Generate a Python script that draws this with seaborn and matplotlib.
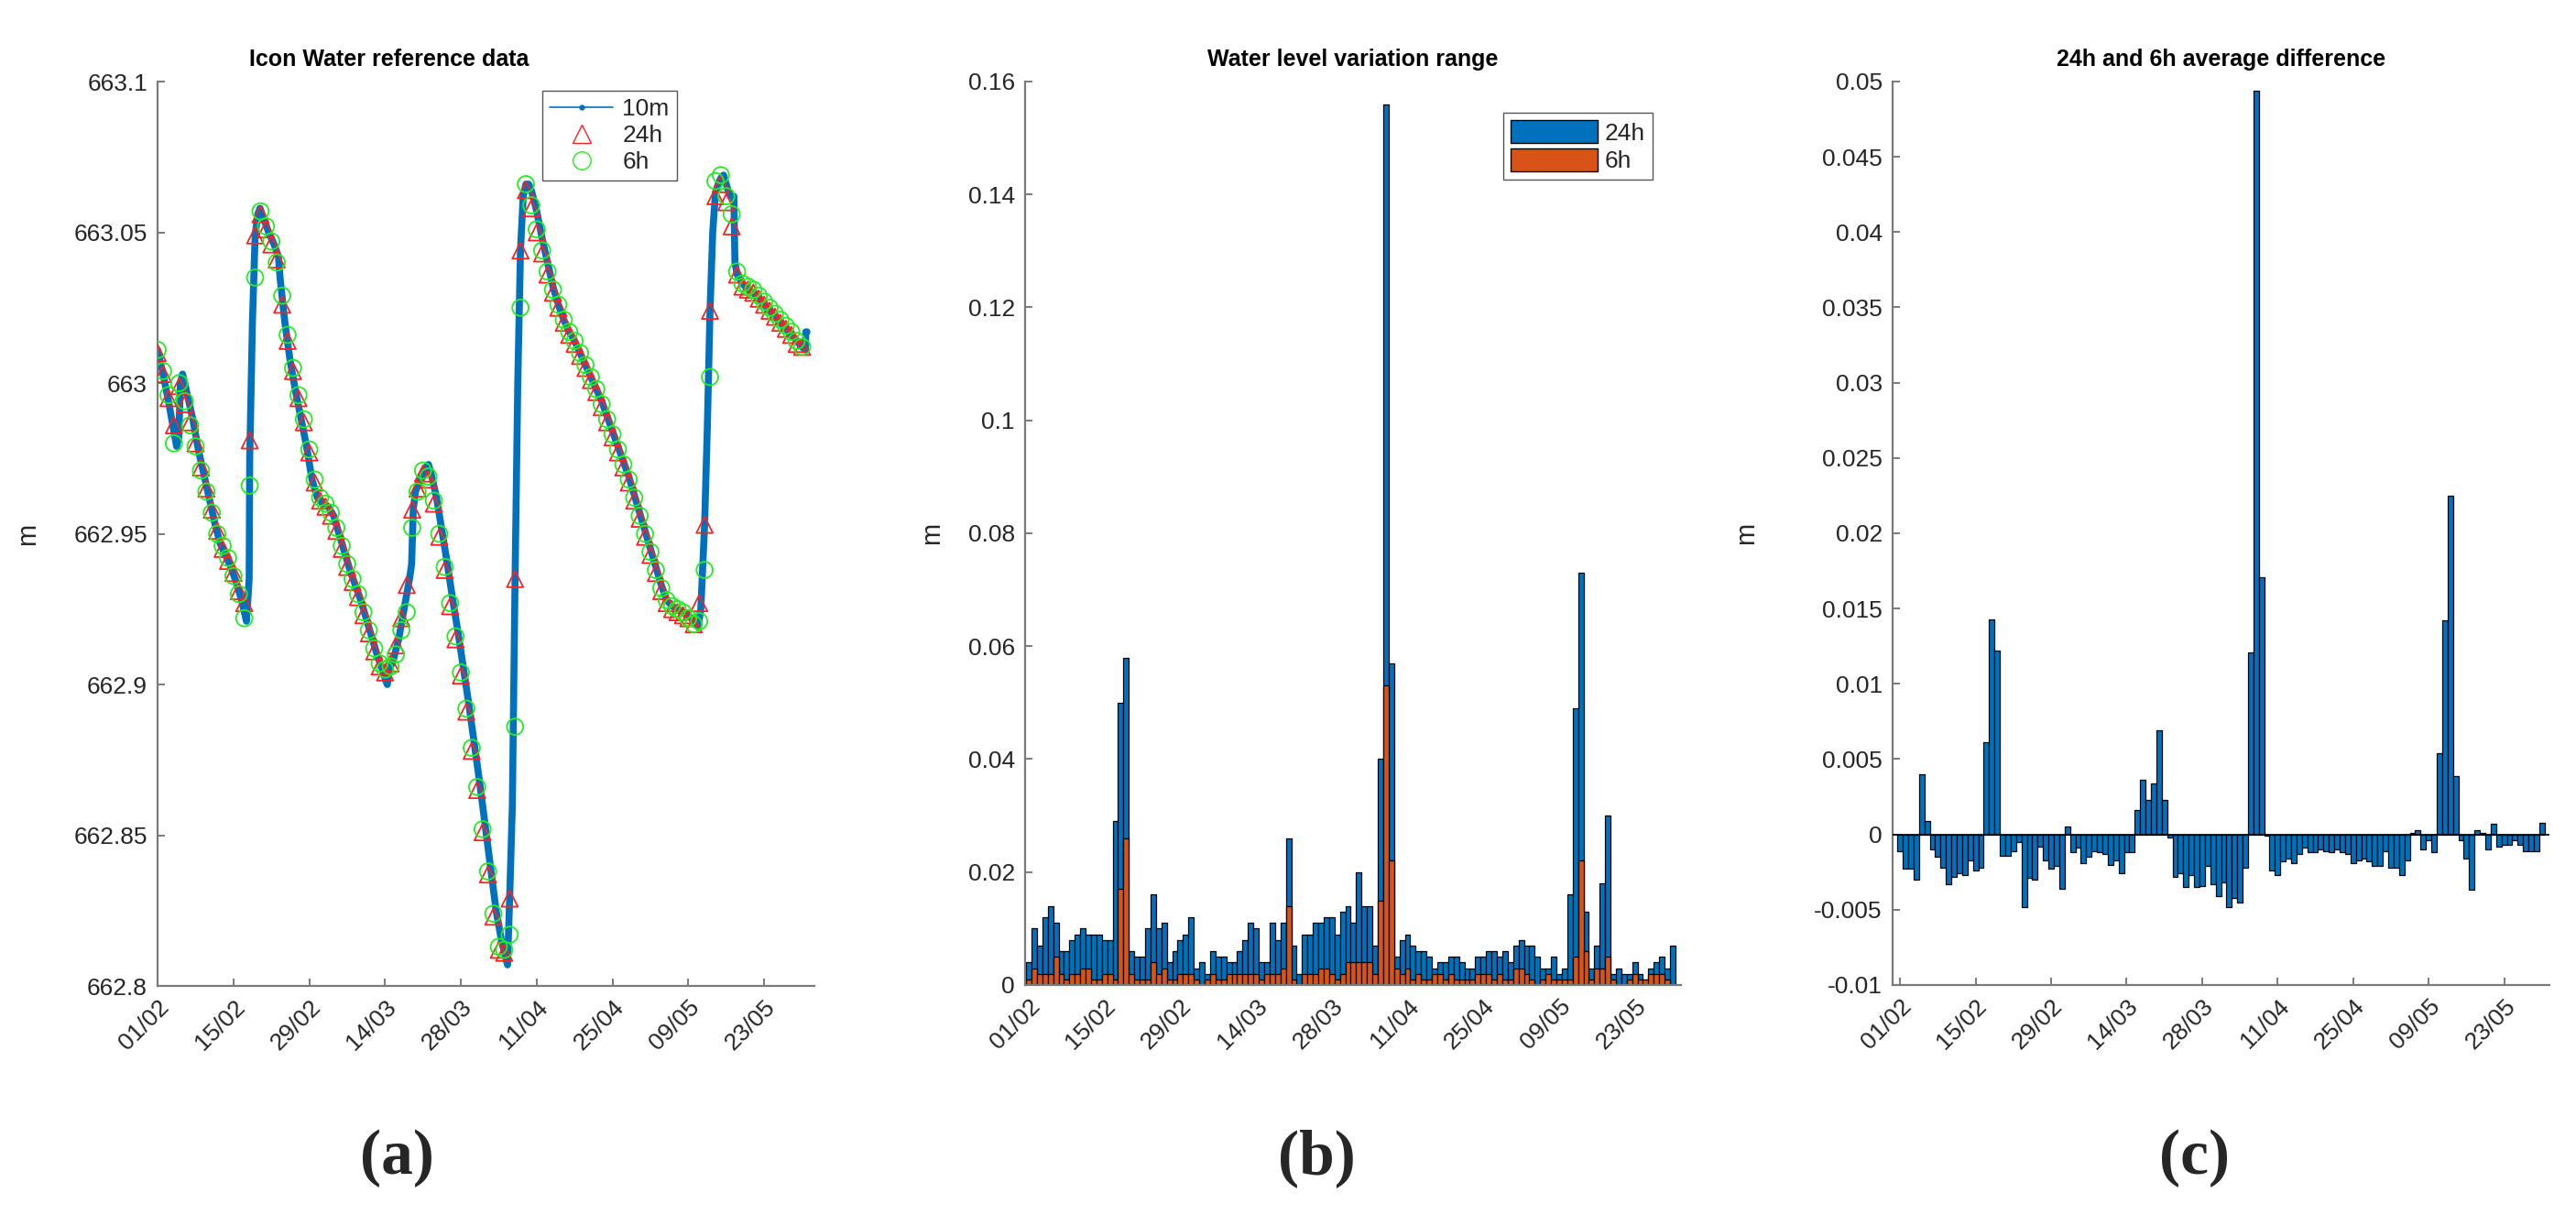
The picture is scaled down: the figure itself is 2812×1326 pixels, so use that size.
import numpy as np
import matplotlib
matplotlib.use("Agg")
import matplotlib.pyplot as plt
import seaborn as sns
from matplotlib.lines import Line2D
from matplotlib.patches import Patch
from matplotlib.ticker import FuncFormatter

# ---------------- data ----------------
DATE_TICKS = [0, 14, 28, 42, 56, 70, 84, 98, 112]
DATE_LABELS = ["01/02", "15/02", "29/02", "14/03", "28/03", "11/04", "25/04", "09/05", "23/05"]

# (a) 10-minute record, vertices (day, m)
level_10m_day = [
    0.0, 1.0, 2.0, 3.0, 3.5, 3.9, 4.2, 4.6, 5.5, 6.5, 7.5, 8.5, 9.5, 10.5, 11.5, 12.5,
    13.5, 14.5, 15.5, 16.4, 16.9, 17.0, 17.5, 18.0, 18.5, 18.9, 19.5, 20.5, 21.5, 22.3,
    22.6, 23.5, 24.5, 25.5, 26.5, 27.5, 28.5, 29.5, 30.5, 31.5, 32.5, 33.5, 34.5, 35.5,
    36.5, 37.5, 38.5, 39.5, 40.5, 41.5, 42.0, 42.4, 42.8, 43.5, 44.5, 45.5, 46.5, 46.9,
    47.2, 47.6, 48.5, 49.5, 50.0, 50.5, 51.5, 52.5, 53.5, 54.5, 55.5, 56.5, 57.5, 58.5,
    59.5, 60.5, 61.5, 62.5, 63.5, 64.6, 65.0, 65.5, 66.0, 66.5, 67.0, 67.5, 68.0, 68.5,
    69.0, 70.0, 71.0, 72.0, 73.0, 74.0, 75.0, 76.0, 77.0, 78.0, 79.0, 80.0, 81.0, 82.0,
    83.0, 84.0, 85.0, 86.0, 87.0, 88.0, 89.0, 90.0, 91.0, 92.0, 93.0, 94.0, 95.0, 96.0,
    97.0, 98.0, 99.0, 99.8, 100.3, 101.0, 101.5, 102.0, 102.5, 103.0, 103.5, 104.0,
    104.5, 105.0, 105.5, 106.0, 106.4, 106.6, 107.0, 108.0, 109.0, 110.0, 111.0, 112.0,
    113.0, 114.0, 115.0, 116.0, 117.0, 118.0, 119.0, 119.6, 119.7, 119.9,
]
level_10m = [
    663.011, 663.003, 662.994, 662.984, 662.979, 662.982, 663.000, 663.003, 662.996,
    662.988, 662.978, 662.970, 662.962, 662.954, 662.947, 662.943, 662.939, 662.934,
    662.928, 662.921, 662.935, 662.975, 663.020, 663.049, 663.056, 663.058, 663.055,
    663.050, 663.046, 663.042, 663.035, 663.020, 663.007, 662.997, 662.988, 662.979,
    662.968, 662.962, 662.960, 662.959, 662.956, 662.950, 662.944, 662.938, 662.933,
    662.928, 662.922, 662.916, 662.910, 662.905, 662.902, 662.900, 662.905, 662.908,
    662.915, 662.925, 662.935, 662.940, 662.958, 662.964, 662.968, 662.972, 662.973,
    662.970, 662.962, 662.951, 662.940, 662.928, 662.917, 662.905, 662.893, 662.880,
    662.867, 662.853, 662.839, 662.825, 662.815, 662.807, 662.829, 662.860, 662.935,
    663.000, 663.044, 663.062, 663.066, 663.066, 663.064, 663.057, 663.048, 663.040,
    663.032, 663.026, 663.021, 663.017, 663.014, 663.010, 663.006, 663.002, 662.998,
    662.994, 662.989, 662.984, 662.979, 662.974, 662.969, 662.963, 662.957, 662.951,
    662.945, 662.939, 662.933, 662.928, 662.926, 662.925, 662.924, 662.923, 662.921,
    662.919, 662.925, 662.953, 662.985, 663.024, 663.050, 663.063, 663.066, 663.068,
    663.069, 663.066, 663.063, 663.062, 663.062, 663.040, 663.036, 663.033, 663.031,
    663.030, 663.028, 663.026, 663.024, 663.022, 663.020, 663.018, 663.016, 663.014,
    663.012, 663.011, 663.017, 663.017,
]

# (a) daily 24h averages (triangles), days 0..119
avg_24h = [
    663.010, 663.003, 662.995, 662.986, 662.999, 662.993, 662.987, 662.980, 662.972, 662.965,
    662.958, 662.951, 662.945, 662.941, 662.937, 662.931, 662.927, 662.981, 663.049, 663.056,
    663.051, 663.046, 663.041, 663.026, 663.014, 663.004, 662.995, 662.987, 662.977, 662.967,
    662.961, 662.959, 662.956, 662.951, 662.945, 662.939, 662.934, 662.929, 662.923, 662.917,
    662.911, 662.906, 662.904, 662.907, 662.913, 662.922, 662.933, 662.958, 662.965, 662.970,
    662.968, 662.960, 662.949, 662.938, 662.926, 662.915, 662.903, 662.891, 662.878, 662.865,
    662.851, 662.837, 662.823, 662.812, 662.811, 662.829, 662.935, 663.044, 663.064, 663.058,
    663.050, 663.043, 663.036, 663.030, 663.025, 663.020, 663.016, 663.013, 663.009, 663.005,
    663.001, 662.997, 662.992, 662.987, 662.982, 662.977, 662.972, 662.967, 662.961, 662.955,
    662.949, 662.943, 662.937, 662.931, 662.927, 662.925, 662.924, 662.923, 662.922, 662.920,
    662.927, 662.953, 663.024, 663.062, 663.066, 663.060, 663.052, 663.036, 663.032, 663.031,
    663.030, 663.028, 663.026, 663.024, 663.022, 663.020, 663.018, 663.016, 663.013, 663.012,
]
# (a) daily 6h averages (circles), days 0..119
avg_6h = [
    663.011, 663.004, 662.996, 662.980, 663.000, 662.994, 662.986, 662.979, 662.971, 662.964,
    662.957, 662.950, 662.946, 662.942, 662.936, 662.930, 662.922, 662.966, 663.035, 663.057,
    663.052, 663.047, 663.040, 663.029, 663.016, 663.005, 662.996, 662.988, 662.978, 662.968,
    662.962, 662.960, 662.957, 662.952, 662.946, 662.940, 662.935, 662.930, 662.924, 662.918,
    662.912, 662.907, 662.905, 662.906, 662.910, 662.918, 662.924, 662.952, 662.964, 662.971,
    662.969, 662.961, 662.950, 662.939, 662.927, 662.916, 662.904, 662.892, 662.879, 662.866,
    662.852, 662.838, 662.824, 662.813, 662.812, 662.817, 662.886, 663.025, 663.066, 663.059,
    663.051, 663.044, 663.037, 663.031, 663.026, 663.021, 663.017, 663.014, 663.010, 663.006,
    663.002, 662.998, 662.993, 662.988, 662.983, 662.978, 662.973, 662.968, 662.962, 662.956,
    662.950, 662.944, 662.938, 662.932, 662.928, 662.926, 662.925, 662.924, 662.922, 662.920,
    662.921, 662.938, 663.002, 663.067, 663.069, 663.062, 663.056, 663.037, 663.033, 663.032,
    663.031, 663.029, 663.027, 663.025, 663.023, 663.021, 663.019, 663.017, 663.014, 663.012,
]

# (b) daily variation range, days 0..119
range_24h = [
    0.004, 0.010, 0.007, 0.012, 0.014, 0.011, 0.006, 0.006, 0.008, 0.009,
    0.010, 0.009, 0.009, 0.009, 0.008, 0.008, 0.029, 0.050, 0.058, 0.006,
    0.005, 0.005, 0.010, 0.016, 0.010, 0.011, 0.004, 0.006, 0.008, 0.009,
    0.012, 0.003, 0.004, 0.002, 0.006, 0.005, 0.005, 0.004, 0.004, 0.006,
    0.008, 0.011, 0.010, 0.004, 0.004, 0.011, 0.008, 0.011, 0.026, 0.007,
    0.002, 0.009, 0.009, 0.011, 0.011, 0.012, 0.012, 0.009, 0.013, 0.014,
    0.011, 0.020, 0.014, 0.014, 0.007, 0.040, 0.156, 0.057, 0.005, 0.008,
    0.009, 0.007, 0.006, 0.006, 0.005, 0.003, 0.004, 0.004, 0.005, 0.005,
    0.004, 0.003, 0.003, 0.005, 0.005, 0.006, 0.006, 0.005, 0.006, 0.004,
    0.007, 0.008, 0.007, 0.007, 0.005, 0.003, 0.003, 0.005, 0.002, 0.003,
    0.016, 0.049, 0.073, 0.013, 0.003, 0.007, 0.018, 0.030, 0.002, 0.003,
    0.002, 0.002, 0.004, 0.002, 0.001, 0.003, 0.004, 0.005, 0.003, 0.007,
]
range_6h = [
    0.001, 0.003, 0.002, 0.002, 0.002, 0.005, 0.002, 0.001, 0.002, 0.002,
    0.003, 0.003, 0.001, 0.001, 0.002, 0.002, 0.001, 0.017, 0.026, 0.002,
    0.001, 0.001, 0.001, 0.004, 0.002, 0.003, 0.001, 0.001, 0.002, 0.002,
    0.002, 0.001, 0.000, 0.001, 0.002, 0.001, 0.001, 0.002, 0.002, 0.002,
    0.002, 0.002, 0.002, 0.001, 0.002, 0.002, 0.002, 0.003, 0.014, 0.001,
    0.000, 0.002, 0.002, 0.002, 0.003, 0.003, 0.002, 0.001, 0.002, 0.004,
    0.004, 0.004, 0.004, 0.004, 0.002, 0.015, 0.053, 0.022, 0.003, 0.002,
    0.003, 0.001, 0.002, 0.001, 0.001, 0.002, 0.002, 0.001, 0.002, 0.001,
    0.001, 0.001, 0.001, 0.002, 0.002, 0.002, 0.001, 0.002, 0.001, 0.001,
    0.003, 0.003, 0.002, 0.001, 0.000, 0.001, 0.002, 0.001, 0.001, 0.001,
    0.001, 0.005, 0.022, 0.006, 0.001, 0.003, 0.003, 0.005, 0.001, 0.000,
    0.000, 0.001, 0.002, 0.001, 0.001, 0.002, 0.002, 0.002, 0.001, 0.000,
]

# (c) 24h minus 6h average, days 0..119
avg_diff = [
    -0.0011, -0.0023, -0.0023, -0.0030, 0.0040, 0.0009, -0.0010, -0.0015, -0.0022, -0.0033,
    -0.0028, -0.0026, -0.0027, -0.0017, -0.0024, -0.0022, 0.0061, 0.0143, 0.0122, -0.0014,
    -0.0014, -0.0011, -0.0005, -0.0048, -0.0029, -0.0030, -0.0008, -0.0017, -0.0023, -0.0021,
    -0.0036, 0.0005, -0.0012, -0.0009, -0.0019, -0.0015, -0.0011, -0.0012, -0.0013, -0.0020,
    -0.0017, -0.0026, -0.0012, -0.0012, 0.0016, 0.0036, 0.0023, 0.0034, 0.0069, 0.0023,
    -0.0002, -0.0028, -0.0026, -0.0035, -0.0027, -0.0035, -0.0034, -0.0021, -0.0033, -0.0041,
    -0.0032, -0.0048, -0.0042, -0.0045, -0.0022, 0.0121, 0.0494, 0.0171, -0.0001, -0.0024,
    -0.0027, -0.0018, -0.0016, -0.0019, -0.0013, -0.0009, -0.0012, -0.0012, -0.0010, -0.0011,
    -0.0012, -0.0010, -0.0012, -0.0013, -0.0019, -0.0017, -0.0016, -0.0018, -0.0021, -0.0021,
    -0.0011, -0.0022, -0.0022, -0.0027, -0.0017, 0.0001, 0.0003, -0.0010, -0.0004, -0.0012,
    0.0054, 0.0142, 0.0225, 0.0039, -0.0004, -0.0016, -0.0037, 0.0003, 0.0001, -0.0010,
    0.0007, -0.0008, -0.0007, -0.0007, -0.0004, -0.0007, -0.0011, -0.0011, -0.0011, 0.0008,
]
days = np.arange(len(avg_24h))

BLUE = "#0072BD"
ORANGE = "#D95319"
AXIS_GRAY = "#7a7a7a"
TEXT_GRAY = "#262626"

sns.set_theme(style="ticks")
plt.rcParams["font.family"] = ["Liberation Sans", "DejaVu Sans"]
plt.rcParams.update({
    "xtick.direction": "in", "ytick.direction": "in",
    "axes.edgecolor": AXIS_GRAY, "xtick.color": AXIS_GRAY, "ytick.color": AXIS_GRAY,
    "xtick.labelcolor": TEXT_GRAY, "ytick.labelcolor": TEXT_GRAY,
    "axes.linewidth": 1.6, "xtick.major.width": 1.4, "ytick.major.width": 1.4,
    "xtick.major.size": 6, "ytick.major.size": 6,
})

TICK_FS = 19
fmt = FuncFormatter(lambda v, p: f"{round(v, 5):g}")


def style_axes(ax, title, ylabel_x, title_x=0.5):
    sns.despine(ax=ax)
    ax.set_title(title, fontsize=18, fontweight="bold", color="black", pad=12, x=title_x)
    ax.set_ylabel("m", fontsize=21, color=TEXT_GRAY)
    ax.yaxis.set_label_coords(ylabel_x, 0.5)
    ax.set_xticks(DATE_TICKS)
    ax.set_xticklabels(DATE_LABELS, rotation=45, ha="right", rotation_mode="anchor")
    ax.tick_params(axis="both", labelsize=TICK_FS, pad=8)
    ax.yaxis.set_major_formatter(fmt)
    ax.set_xlabel("")


fig = plt.figure(figsize=(28.12, 13.26), dpi=100)
ax_a = fig.add_axes([0.0612, 0.1885, 0.255, 0.7443])
ax_b = fig.add_axes([0.3979, 0.1893, 0.2546, 0.7436])
ax_c = fig.add_axes([0.7347, 0.1893, 0.2550, 0.7436])

# ---- (a) ----
sns.lineplot(x=level_10m_day, y=level_10m, ax=ax_a, color=BLUE, linewidth=5.5, sort=False)
sns.scatterplot(x=days, y=avg_24h, ax=ax_a, marker="^", s=165, facecolors="none",
                edgecolor="#FF2020", linewidth=1.3, zorder=3)
sns.scatterplot(x=days, y=avg_6h, ax=ax_a, marker="o", s=165, facecolors="none",
                edgecolor="#22EE22", linewidth=1.3, zorder=4)
ax_a.set_xlim(0, 121.3)
ax_a.set_ylim(662.8, 663.1)
ax_a.set_yticks(np.arange(662.8, 663.1001, 0.05))
style_axes(ax_a, "Icon Water reference data", -0.178, title_x=0.352)
handles_a = [
    Line2D([], [], color=BLUE, lw=1.2, marker=".", markersize=7),
    Line2D([], [], color="#FF2020", lw=0, marker="^", markersize=14, markerfacecolor="none"),
    Line2D([], [], color="#22EE22", lw=0, marker="o", markersize=14, markerfacecolor="none"),
]
leg = ax_a.legend(handles_a, ["10m", "24h", "6h"], loc="upper right",
                  bbox_to_anchor=(0.79, 0.99), borderaxespad=0, fontsize=TICK_FS,
                  handlelength=2.6, handletextpad=0.4, frameon=True, fancybox=False,
                  framealpha=1, edgecolor="#555555", borderpad=0.3, labelspacing=0.2)
for t in leg.get_texts():
    t.set_color(TEXT_GRAY)

# ---- (b) ----
sns.barplot(x=days, y=range_24h, ax=ax_b, native_scale=True, color=BLUE, saturation=1,
            width=1.0, edgecolor="black", linewidth=0.9, errorbar=None)
sns.barplot(x=days, y=range_6h, ax=ax_b, native_scale=True, color=ORANGE, saturation=1,
            width=1.0, edgecolor="black", linewidth=0.9, errorbar=None)
ax_b.set_xlim(-0.7, 120.5)
ax_b.set_ylim(0, 0.16)
ax_b.set_yticks(np.arange(0, 0.1601, 0.02))
style_axes(ax_b, "Water level variation range", -0.123)
leg = ax_b.legend([Patch(facecolor=BLUE, edgecolor="black"), Patch(facecolor=ORANGE, edgecolor="black")],
                  ["24h", "6h"], loc="upper right", bbox_to_anchor=(0.957, 0.9655),
                  borderaxespad=0, fontsize=TICK_FS, handlelength=3.6, handleheight=1.1,
                  handletextpad=0.3, frameon=True, fancybox=False, framealpha=1,
                  edgecolor="#555555", borderpad=0.3, labelspacing=0.15)
for t in leg.get_texts():
    t.set_color(TEXT_GRAY)

# ---- (c) ----
sns.barplot(x=days, y=avg_diff, ax=ax_c, native_scale=True, color=BLUE, saturation=1,
            width=1.0, edgecolor="black", linewidth=0.9, errorbar=None)
ax_c.axhline(0, color="black", linewidth=1.2, zorder=5)
ax_c.set_xlim(-1.4, 120.4)
ax_c.set_ylim(-0.01, 0.05)
ax_c.set_yticks(np.arange(-0.01, 0.0501, 0.005))
style_axes(ax_c, "24h and 6h average difference", -0.204)

# panel letters
for xpos, letter in [(0.154, "(a)"), (0.511, "(b)"), (0.852, "(c)")]:
    fig.text(xpos, 0.047, letter, ha="center", va="center", fontsize=50,
             fontweight="bold", family=["Liberation Serif", "DejaVu Serif"])

fig.savefig("out.png", dpi=100, facecolor="white")
